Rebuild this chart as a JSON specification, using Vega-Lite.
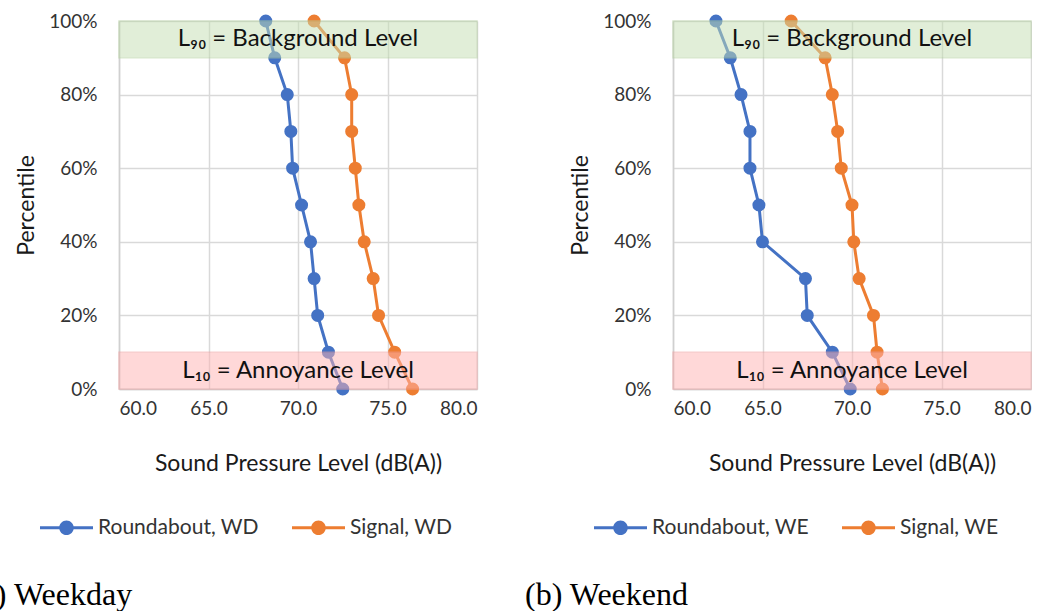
{
  "$schema": "https://vega.github.io/schema/vega-lite/v6.json",
  "padding": {"left": -29, "top": 12, "right": 0, "bottom": 0},
  "background": "white",
  "config": {
    "font": "Lato",
    "view": {"stroke": null},
    "axis": {
      "labelFont": "Lato", "titleFont": "Lato", "labelColor": "#333333", "titleColor": "#1a1a1a",
      "gridColor": "#d9d9d9", "gridWidth": 1.5, "domainColor": "#d0d0d0", "domainWidth": 1.5,
      "ticks": false, "labelFontSize": 19, "titleFontSize": 23, "titleFontWeight": "normal", "labelOverlap": false
    },
    "legend": {
      "orient": "none", "direction": "horizontal", "title": null,
      "labelFont": "Lato", "labelFontSize": 21, "labelColor": "#333333", "labelLimit": 400,
      "symbolType": "M-1,-0.055H1V0.055H-1Z M-0.275,0 A0.275,0.275 0 1,1 0.275,0 A0.275,0.275 0 1,1 -0.275,0 Z",
      "symbolSize": 2809, "symbolStrokeWidth": 0, "symbolOpacity": 1,
      "columnPadding": 33, "labelOffset": 5, "legendX": -79, "legendY": 480
    },
    "concat": {"spacing": 47}
  },
  "datasets": {
    "d": [
      {"panel": "WD", "series": "Roundabout, WD", "p": 100, "spl": 68.2},
      {"panel": "WD", "series": "Roundabout, WD", "p": 90, "spl": 68.7},
      {"panel": "WD", "series": "Roundabout, WD", "p": 80, "spl": 69.4},
      {"panel": "WD", "series": "Roundabout, WD", "p": 70, "spl": 69.6},
      {"panel": "WD", "series": "Roundabout, WD", "p": 60, "spl": 69.7},
      {"panel": "WD", "series": "Roundabout, WD", "p": 50, "spl": 70.2},
      {"panel": "WD", "series": "Roundabout, WD", "p": 40, "spl": 70.7},
      {"panel": "WD", "series": "Roundabout, WD", "p": 30, "spl": 70.9},
      {"panel": "WD", "series": "Roundabout, WD", "p": 20, "spl": 71.1},
      {"panel": "WD", "series": "Roundabout, WD", "p": 10, "spl": 71.7},
      {"panel": "WD", "series": "Roundabout, WD", "p": 0, "spl": 72.5},
      {"panel": "WD", "series": "Signal, WD", "p": 100, "spl": 70.9},
      {"panel": "WD", "series": "Signal, WD", "p": 90, "spl": 72.6},
      {"panel": "WD", "series": "Signal, WD", "p": 80, "spl": 73.0},
      {"panel": "WD", "series": "Signal, WD", "p": 70, "spl": 73.0},
      {"panel": "WD", "series": "Signal, WD", "p": 60, "spl": 73.2},
      {"panel": "WD", "series": "Signal, WD", "p": 50, "spl": 73.4},
      {"panel": "WD", "series": "Signal, WD", "p": 40, "spl": 73.7},
      {"panel": "WD", "series": "Signal, WD", "p": 30, "spl": 74.2},
      {"panel": "WD", "series": "Signal, WD", "p": 20, "spl": 74.5},
      {"panel": "WD", "series": "Signal, WD", "p": 10, "spl": 75.4},
      {"panel": "WD", "series": "Signal, WD", "p": 0, "spl": 76.4},
      {"panel": "WE", "series": "Roundabout, WE", "p": 100, "spl": 62.4},
      {"panel": "WE", "series": "Roundabout, WE", "p": 90, "spl": 63.2},
      {"panel": "WE", "series": "Roundabout, WE", "p": 80, "spl": 63.8},
      {"panel": "WE", "series": "Roundabout, WE", "p": 70, "spl": 64.3},
      {"panel": "WE", "series": "Roundabout, WE", "p": 60, "spl": 64.3},
      {"panel": "WE", "series": "Roundabout, WE", "p": 50, "spl": 64.8},
      {"panel": "WE", "series": "Roundabout, WE", "p": 40, "spl": 65.0},
      {"panel": "WE", "series": "Roundabout, WE", "p": 30, "spl": 67.4},
      {"panel": "WE", "series": "Roundabout, WE", "p": 20, "spl": 67.5},
      {"panel": "WE", "series": "Roundabout, WE", "p": 10, "spl": 68.9},
      {"panel": "WE", "series": "Roundabout, WE", "p": 0, "spl": 69.9},
      {"panel": "WE", "series": "Signal, WE", "p": 100, "spl": 66.6},
      {"panel": "WE", "series": "Signal, WE", "p": 90, "spl": 68.5},
      {"panel": "WE", "series": "Signal, WE", "p": 80, "spl": 68.9},
      {"panel": "WE", "series": "Signal, WE", "p": 70, "spl": 69.2},
      {"panel": "WE", "series": "Signal, WE", "p": 60, "spl": 69.4},
      {"panel": "WE", "series": "Signal, WE", "p": 50, "spl": 70.0},
      {"panel": "WE", "series": "Signal, WE", "p": 40, "spl": 70.1},
      {"panel": "WE", "series": "Signal, WE", "p": 30, "spl": 70.4},
      {"panel": "WE", "series": "Signal, WE", "p": 20, "spl": 71.2},
      {"panel": "WE", "series": "Signal, WE", "p": 10, "spl": 71.4},
      {"panel": "WE", "series": "Signal, WE", "p": 0, "spl": 71.7}
    ],
    "bands": [
      {"lo": 90, "hi": 100, "zone": "bg", "label": "L₉₀ = Background Level", "mid": 95},
      {"lo": 0, "hi": 10, "zone": "an", "label": "L₁₀ = Annoyance Level", "mid": 5}
    ]
  },
  "hconcat": [
    {
      "width": 358, "height": 368,
      "title": {"text": "(a) Weekday", "orient": "bottom", "anchor": "start", "frame": "group", "dx": -148, "offset": 42, "font": "Liberation Serif", "fontSize": 32, "fontWeight": "normal", "color": "black"},
      "layer": [
        {
          "data": {"name": "d"},
          "transform": [{"filter": "datum.panel == 'WD'"}],
          "mark": {"type": "line", "strokeWidth": 3},
          "encoding": {
            "x": {"field": "spl", "type": "quantitative", "scale": {"domain": [60, 80], "nice": false}, "axis": {"values": [60, 65, 70, 75, 80], "format": ".1f", "title": "Sound Pressure Level (dB(A))", "labelPadding": 10, "titlePadding": 34}},
            "y": {"field": "p", "type": "quantitative", "scale": {"domain": [0, 100], "nice": false}, "axis": {"values": [0, 10, 20, 30, 40, 50, 60, 70, 80, 90, 100], "labelExpr": "datum.value + '%'", "title": "Percentile", "labelPadding": 22, "titlePadding": 10}},
            "color": {"field": "series", "type": "nominal", "scale": {"domain": ["Roundabout, WD", "Signal, WD"], "range": ["#4472c4", "#ed7d31"]}},
            "order": {"field": "p", "type": "quantitative"}
          }
        },
        {
          "data": {"name": "d"},
          "transform": [{"filter": "datum.panel == 'WD'"}],
          "mark": {"type": "point", "filled": true, "size": 170, "opacity": 1},
          "encoding": {
            "x": {"field": "spl", "type": "quantitative"},
            "y": {"field": "p", "type": "quantitative"},
            "color": {"field": "series", "type": "nominal", "scale": {"domain": ["Roundabout, WD", "Signal, WD"], "range": ["#4472c4", "#ed7d31"]}}
          }
        },
        {
          "data": {"name": "bands"},
          "mark": {"type": "rect", "opacity": 0.5, "strokeWidth": 1.5},
          "encoding": {
            "x": {"datum": 60, "type": "quantitative"},
            "x2": {"datum": 80},
            "y": {"field": "lo", "type": "quantitative"},
            "y2": {"field": "hi"},
            "fill": {"field": "zone", "type": "nominal", "scale": {"domain": ["bg", "an"], "range": ["#c5dfb3", "#ffb3b3"]}, "legend": null},
            "stroke": {"field": "zone", "type": "nominal", "scale": {"domain": ["bg", "an"], "range": ["#b5d3a0", "#f2a0a0"]}, "legend": null}
          }
        },
        {
          "data": {"name": "bands"},
          "mark": {"type": "text", "fontSize": 24, "font": "Lato", "color": "#111111"},
          "encoding": {
            "x": {"datum": 70, "type": "quantitative"},
            "y": {"field": "mid", "type": "quantitative"},
            "text": {"field": "label"}
          }
        }
      ]
    },
    {
      "width": 358, "height": 368,
      "title": {"text": "(b) Weekend", "orient": "bottom", "anchor": "start", "frame": "group", "dx": -148, "offset": 42, "font": "Liberation Serif", "fontSize": 32, "fontWeight": "normal", "color": "black"},
      "layer": [
        {
          "data": {"name": "d"},
          "transform": [{"filter": "datum.panel == 'WE'"}],
          "mark": {"type": "line", "strokeWidth": 3},
          "encoding": {
            "x": {"field": "spl", "type": "quantitative", "scale": {"domain": [60, 80], "nice": false}, "axis": {"values": [60, 65, 70, 75, 80], "format": ".1f", "title": "Sound Pressure Level (dB(A))", "labelPadding": 10, "titlePadding": 34}},
            "y": {"field": "p", "type": "quantitative", "scale": {"domain": [0, 100], "nice": false}, "axis": {"values": [0, 10, 20, 30, 40, 50, 60, 70, 80, 90, 100], "labelExpr": "datum.value + '%'", "title": "Percentile", "labelPadding": 22, "titlePadding": 10}},
            "color": {"field": "series", "type": "nominal", "scale": {"domain": ["Roundabout, WE", "Signal, WE"], "range": ["#4472c4", "#ed7d31"]}},
            "order": {"field": "p", "type": "quantitative"}
          }
        },
        {
          "data": {"name": "d"},
          "transform": [{"filter": "datum.panel == 'WE'"}],
          "mark": {"type": "point", "filled": true, "size": 170, "opacity": 1},
          "encoding": {
            "x": {"field": "spl", "type": "quantitative"},
            "y": {"field": "p", "type": "quantitative"},
            "color": {"field": "series", "type": "nominal", "scale": {"domain": ["Roundabout, WE", "Signal, WE"], "range": ["#4472c4", "#ed7d31"]}}
          }
        },
        {
          "data": {"name": "bands"},
          "mark": {"type": "rect", "opacity": 0.5, "strokeWidth": 1.5},
          "encoding": {
            "x": {"datum": 60, "type": "quantitative"},
            "x2": {"datum": 80},
            "y": {"field": "lo", "type": "quantitative"},
            "y2": {"field": "hi"},
            "fill": {"field": "zone", "type": "nominal", "scale": {"domain": ["bg", "an"], "range": ["#c5dfb3", "#ffb3b3"]}, "legend": null},
            "stroke": {"field": "zone", "type": "nominal", "scale": {"domain": ["bg", "an"], "range": ["#b5d3a0", "#f2a0a0"]}, "legend": null}
          }
        },
        {
          "data": {"name": "bands"},
          "mark": {"type": "text", "fontSize": 24, "font": "Lato", "color": "#111111"},
          "encoding": {
            "x": {"datum": 70, "type": "quantitative"},
            "y": {"field": "mid", "type": "quantitative"},
            "text": {"field": "label"}
          }
        }
      ]
    }
  ],
  "resolve": {"scale": {"color": "independent", "fill": "independent", "stroke": "independent"}}
}
